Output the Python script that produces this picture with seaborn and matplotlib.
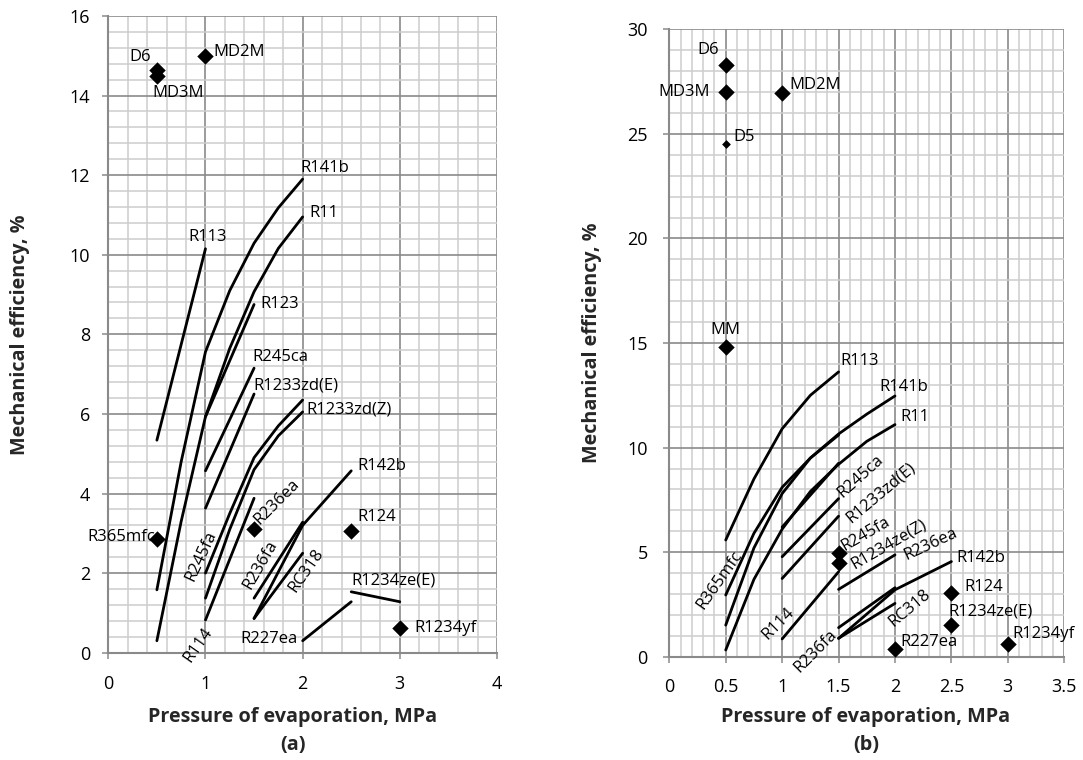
import numpy as np
import pandas as pd
import matplotlib
matplotlib.use("Agg")
import matplotlib.pyplot as plt
import seaborn as sns
from matplotlib.ticker import MultipleLocator, FuncFormatter

# ---------------- Panel (a) data ----------------
A_CURVES = ["R113", "R141b", "R11", "R123", "R245ca", "R1233zd(E)", "R245fa",
            "R1233zd(Z)", "R114", "R236fa", "R142b", "RC318", "R227ea", "R1234ze(E)"]
A_CURVE_P = [[0.5, 1.0],
             [0.5, 0.75, 1.0, 1.25, 1.5, 1.75, 2.0],
             [0.5, 0.75, 1.0, 1.25, 1.5, 1.75, 2.0],
             [1.0, 1.5],
             [1.0, 1.5],
             [1.0, 1.5],
             [1.0, 1.25, 1.5, 1.75, 2.0],
             [1.0, 1.25, 1.5, 1.75, 2.0],
             [1.0, 1.5],
             [1.5, 2.0],
             [1.5, 2.0, 2.5],
             [1.5, 2.0],
             [2.0, 2.5],
             [2.5, 3.0]]
A_CURVE_E = [[5.34, 10.15],
             [1.58, 4.8, 7.56, 9.1, 10.29, 11.18, 11.9],
             [0.3, 3.3, 5.93, 7.65, 9.07, 10.16, 10.95],
             [5.93, 8.75],
             [4.57, 7.15],
             [3.63, 6.5],
             [2.0, 3.5, 4.9, 5.7, 6.35],
             [1.37, 3.1, 4.6, 5.45, 6.05],
             [0.82, 3.88],
             [1.37, 3.28],
             [0.86, 3.2, 4.57],
             [0.86, 2.5],
             [0.3, 1.28],
             [1.53, 1.28]]
A_POINTS = ["D6", "MD3M", "MD2M", "R365mfc", "R236ea", "R124", "R1234yf"]
A_POINT_P = [0.5, 0.5, 1.0, 0.5, 1.5, 2.5, 3.0]
A_POINT_E = [14.64, 14.49, 14.99, 2.85, 3.12, 3.06, 0.63]

# ---------------- Panel (b) data ----------------
B_CURVES = ["R113", "R365mfc", "R141b", "R11", "R123", "R245ca", "R1233zd(E)",
            "R114", "R236ea", "R236fa", "R142b", "RC318"]
B_CURVE_P = [[0.5, 0.75, 1.0, 1.25, 1.5],
             [0.5, 0.75, 1.0, 1.25, 1.5],
             [0.5, 0.75, 1.0, 1.25, 1.5, 1.75, 2.0],
             [0.5, 0.75, 1.0, 1.25, 1.5, 1.75, 2.0],
             [1.0, 1.5],
             [1.0, 1.5],
             [1.0, 1.5],
             [1.0, 1.5],
             [1.5, 2.0],
             [1.5, 2.0],
             [1.5, 2.0, 2.5],
             [1.5, 2.0]]
B_CURVE_E = [[5.58, 8.5, 10.9, 12.5, 13.62],
             [2.95, 5.9, 8.1, 9.5, 10.6],
             [1.51, 5.2, 7.8, 9.5, 10.65, 11.6, 12.47],
             [0.32, 3.7, 6.1, 7.9, 9.2, 10.3, 11.1],
             [6.2, 9.25],
             [4.78, 7.56],
             [3.74, 6.72],
             [0.85, 4.06],
             [3.22, 4.87],
             [1.39, 3.3],
             [0.88, 3.2, 4.55],
             [0.88, 2.55]]
B_POINTS = ["D6", "MD3M", "MD2M", "D5", "MM", "R245fa", "R1234ze(Z)",
            "R124", "R1234ze(E)", "R227ea", "R1234yf"]
B_POINT_P = [0.5, 0.5, 1.0, 0.5, 0.5, 1.5, 1.5, 2.5, 2.5, 2.0, 3.0]
B_POINT_E = [28.3, 27.0, 26.95, 24.5, 14.8, 4.97, 4.46, 3.07, 1.51, 0.35, 0.61]
B_SMALL_POINTS = ["D5"]

# ---------------- label placement (style: anchor, dx px, dy px, ha, rotation) ----------------
A_LABELS = [
    ("D6", "pt", -6, 13, "right", 0), ("MD3M", "pt", -5, -17, "left", 0),
    ("MD2M", "pt", 8, 4, "left", 0), ("R365mfc", "pt", -2, 2.6, "right", 0),
    ("R236ea", "pt", 22.7, 26.8, "center", 45), ("R124", "pt", 6.5, 14, "left", 0),
    ("R1234yf", "pt", 15, 0, "left", 0), ("R113", "end", 2.5, 12, "center", 0),
    ("R141b", "end", -2, 11, "left", 0), ("R11", "end", 7, 4, "left", 0),
    ("R123", "end", 6, 0, "left", 0), ("R245ca", "end", -2, 11, "left", 0),
    ("R1233zd(E)", "end", -1, 9, "left", 0), ("R1233zd(Z)", "end", 4, 2.5, "left", 0),
    ("R142b", "end", 6.5, 5, "left", 0), ("R1234ze(E)", "start", 0, 11, "left", 0),
    ("R227ea", "start", -5, 1.5, "right", 0), ("R245fa", "start", -4.6, 17, "center", 65),
    ("R114", "start", -7, -25, "center", 55), ("R236fa", "start", 6, 33, "center", 60),
    ("RC318", "end", 3.3, -17, "center", 55),
]
B_LABELS = [
    ("D6", "pt", -6.7, 14.4, "right", 0), ("MD3M", "pt", -15.7, 0, "right", 0),
    ("MD2M", "pt", 7, 8, "left", 0), ("D5", "pt", 7.6, 7, "left", 0),
    ("MM", "pt", 0, 17, "center", 0), ("R245fa", "pt", 27, 18.7, "center", 30),
    ("R1234ze(Z)", "pt", 50, 19.4, "center", 30), ("R124", "pt", 13.4, 5.7, "left", 0),
    ("R1234ze(E)", "pt", -3.3, 13.4, "left", 0), ("R227ea", "pt", 5, 7.7, "left", 0),
    ("R1234yf", "pt", 5, 10, "left", 0), ("R113", "end", 2, 11, "left", 0),
    ("R141b", "end", 9, 9, "center", 0), ("R11", "end", 5, 7.7, "left", 0),
    ("R365mfc", "start", -5.7, 15, "center", 55), ("R114", "start", -4, 15, "center", 45),
    ("R236fa", "start", -23, -24, "center", 45), ("R245ca", "end", 22, 22, "center", 42),
    ("R1233zd(E)", "end", 42, 23.6, "center", 40), ("R236ea", "end", 36, 10.4, "center", 25),
    ("R142b", "end", 5, 4, "left", 0), ("RC318", "end", 15, -4.7, "center", 40),
]

sns.set_theme(style="white")
plt.rcParams["font.family"] = ["Open Sans", "DejaVu Sans"]

MAJOR = "#8a8a8a"
MINOR = "#cdcdcd"


def long_df(names, ps, es):
    rows = []
    for n, p, e in zip(names, ps, es):
        for pi, ei in zip(p, e):
            rows.append((n, pi, ei))
    return pd.DataFrame(rows, columns=["fluid", "p", "eff"])


def style_axes(ax, xmax, xmaj, xmin, ymax, ymaj, ymin, xpad, ypad):
    ax.set_xlim(0, xmax)
    ax.set_ylim(0, ymax)
    ax.xaxis.set_major_locator(MultipleLocator(xmaj))
    ax.xaxis.set_minor_locator(MultipleLocator(xmin))
    ax.yaxis.set_major_locator(MultipleLocator(ymaj))
    ax.yaxis.set_minor_locator(MultipleLocator(ymin))
    ax.xaxis.set_major_formatter(FuncFormatter(lambda v, _: f"{v:g}"))
    ax.yaxis.set_major_formatter(FuncFormatter(lambda v, _: f"{v:g}"))
    ax.set_axisbelow(True)
    ax.grid(which="minor", color=MINOR, lw=1.1)
    ax.grid(which="major", color=MAJOR, lw=1.2)
    for s in ["top", "right"]:
        ax.spines[s].set_visible(False)
    for s in ["left", "bottom"]:
        ax.spines[s].set_color(MAJOR)
        ax.spines[s].set_linewidth(1.5)
    ax.tick_params(which="major", direction="out", length=4, width=1.1,
                   color=MAJOR, labelsize=13, labelcolor="black")
    ax.tick_params(axis="x", which="major", pad=xpad, bottom=True)
    ax.tick_params(axis="y", which="major", pad=ypad, left=True)
    ax.tick_params(which="minor", length=0)


def draw_panel(ax, curves, cp, ce, points, pp, pe, labels, small=()):
    ldf = long_df(curves, cp, ce)
    sns.lineplot(data=ldf, x="p", y="eff", units="fluid", estimator=None,
                 sort=False, color="black", lw=2.0, ax=ax, legend=False, zorder=3)
    pdf = pd.DataFrame({"fluid": points, "p": pp, "eff": pe})
    big = pdf[~pdf["fluid"].isin(small)]
    sml = pdf[pdf["fluid"].isin(small)]
    sns.scatterplot(data=big, x="p", y="eff", marker="D", s=70, color="black",
                    linewidth=0, ax=ax, zorder=4, legend=False)
    if len(sml):
        sns.scatterplot(data=sml, x="p", y="eff", marker="D", s=20, color="black",
                        linewidth=0, ax=ax, zorder=4, legend=False)
    for name, anchor, dx, dy, ha, rot in labels:
        if anchor == "pt":
            row = pdf[pdf["fluid"] == name].iloc[0]
            xy = (row["p"], row["eff"])
        else:
            sub = ldf[ldf["fluid"] == name]
            r = sub.iloc[0] if anchor == "start" else sub.iloc[-1]
            xy = (r["p"], r["eff"])
        ax.annotate(name, xy, xytext=(dx * 0.72, dy * 0.72), textcoords="offset points",
                    ha=ha, va="center", rotation=rot, rotation_mode="anchor",
                    fontsize=12, color="black", annotation_clip=False, zorder=5)


fig = plt.figure(figsize=(10.83, 7.6), dpi=100)
fig.patch.set_facecolor("white")
ax_a = fig.add_axes([0.1000, 0.1412, 0.3589, 0.8378])
ax_b = fig.add_axes([0.6180, 0.1359, 0.3647, 0.8255])

style_axes(ax_a, 4, 1, 0.2, 16, 2, 0.4, xpad=12, ypad=9)
style_axes(ax_b, 3.5, 0.5, 0.1, 30, 5, 1, xpad=11, ypad=11.5)

draw_panel(ax_a, A_CURVES, A_CURVE_P, A_CURVE_E, A_POINTS, A_POINT_P, A_POINT_E, A_LABELS)
draw_panel(ax_b, B_CURVES, B_CURVE_P, B_CURVE_E, B_POINTS, B_POINT_P, B_POINT_E, B_LABELS,
           small=B_SMALL_POINTS)

for ax, ylx, xlx, xly, tly, tag in [(ax_a, -0.228, 0.474, -0.101, -0.145, "(a)"),
                                    (ax_b, -0.196, 0.498, -0.096, -0.1407, "(b)")]:
    ax.set_xlabel("Pressure of evaporation, MPa", fontsize=14.2, fontweight="bold")
    ax.set_ylabel("Mechanical efficiency, %", fontsize=14.2, fontweight="bold")
    ax.xaxis.set_label_coords(xlx, xly)
    ax.xaxis.label.set_va("center")
    ax.yaxis.set_label_coords(ylx, 0.5)
    ax.yaxis.label.set_va("center")
    ax.text(xlx, tly, tag, transform=ax.transAxes, ha="center", va="center",
            fontsize=14.2, fontweight="bold")

fig.savefig("out.png", dpi=100)
